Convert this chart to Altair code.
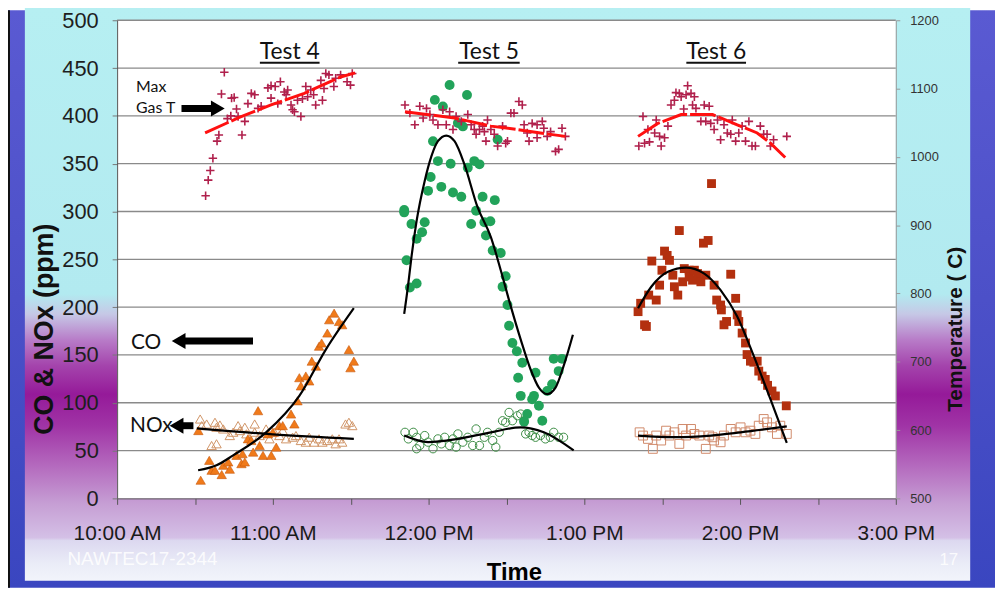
import altair as alt
import pandas as pd

# ---------------- data: (minutes after 10:00 AM, value) ----------------
# Max gas temperature, deg C (right axis)
T4_TEMP = [(34.1,943),(35.1,966),(35.9,980),(36.9,998),(38.5,1023),(39.2,1032),(40.2,1092),(41.3,1124),
           (42.5,1056),(43.8,1060),(44.1,1086),(45.1,1087),(46.0,1070),(46.6,1059),(48.1,1032),(49.2,1052),
           (50.4,1078),(51.7,1093),(53.0,1091),(54.3,1071),(55.5,1074),(58.1,1101),(59.3,1104),(59.3,1086),
           (60.9,1103),(61.9,1078),(62.9,1110),(64.4,1095),(65.1,1091),(65.7,1098),(67.0,1076),(67.6,1069),
           (68.3,1066),(69.5,1083),(70.8,1059),(71.4,1085),(72.7,1103),(73.4,1088),(74.6,1098),(75.7,1091),
           (76.5,1076),(78.5,1112),(79.1,1083),(79.7,1100),(80.4,1122),(81.6,1120),(83.5,1103),(84.2,1115),
           (86.1,1120),(88.6,1110),(89.9,1105),(90.6,1122)]
T4_TEMP_TREND = [(33.9,1035),(46.6,1057),(59.3,1076),(72.1,1093),(86.1,1117),(91.7,1123)]

T5_TEMP = [(110.9,1076),(112.8,1064),(114.7,1047),(116.6,1074),(117.9,1057),(119.2,1071),(120.5,1062),
           (121.7,1054),(123.6,1047),(125.5,1069),(126.8,1047),(128.1,1066),(129.4,1040),(130.6,1059),
           (132.6,1052),(135.1,1062),(136.4,1047),(137.6,1040),(138.3,1033),(139.6,1040),(140.8,1045),
           (141.5,1037),(142.1,1023),(142.7,1054),(144.0,1040),(145.3,1033),(146.6,1016),(148.5,1045),
           (149.7,1020),(150.4,1023),(151.7,1064),(152.9,1064),(154.8,1081),(156.1,1076),(156.8,1047),
           (158.0,1035),(158.7,1023),(159.9,1049),(161.8,1047),(161.8,1028),(163.8,1052),(164.4,1042),
           (165.7,1030),(167.0,1037),(168.9,1008),(170.1,1011),(171.4,1042),(172.7,1030)]
T5_TEMP_TREND = [(110.9,1066),(130.0,1057),(144.0,1045),(154.2,1040),(163.1,1035),(172.7,1030)]

T6_TEMP = [(201.0,1016),(202.6,1059),(203.2,1020),(204.5,1040),(205.1,1022),(207.1,1035),(207.7,1054),
           (209.0,1030),(209.6,1016),(210.9,1028),(212.2,1045),(213.4,1076),(214.7,1083),(215.3,1094),
           (216.6,1093),(217.3,1088),(218.3,1070),(219.2,1091),(219.8,1104),(221.1,1093),(221.7,1076),
           (222.4,1088),(223.0,1071),(224.9,1052),(226.2,1076),(226.8,1052),(228.1,1074),(228.7,1049),
           (230.0,1040),(231.3,1054),(232.5,1025),(233.8,1047),(235.1,1035),(236.4,1033),(237.0,1054),
           (238.3,1023),(239.5,1035),(240.8,1045),(242.1,1023),(243.4,1052),(244.6,1016),(245.9,1016),
           (247.8,1045),(249.1,1033),(250.4,1033),(251.7,1016),(252.9,1025),(258.0,1030)]
T6_TEMP_TREND = [(200.7,1030),(208.3,1049),(217.3,1062),(229.4,1062),(238.9,1047),(246.6,1035),
                 (251.7,1020),(257.4,999)]

# CO and NOx, ppm (left axis)
T4_CO = [(31.3,70.9),(32.2,19.0),(35.5,39.8),(36.4,29.4),(37.7,29.4),(40.3,24.9),(40.9,34.6),(42.8,38.1),
         (43.4,30.5),(46.0,45.0),(47.9,36.3),(48.3,46.7),(49.2,38.1),(50.4,62.3),(51.7,60.5),(52.4,48.4),
         (54.3,91.7),(54.9,55.3),(56.2,45.0),(58.1,67.5),(59.4,45.0),(60.0,69.2),(61.3,53.6),(62.5,76.1),
         (63.8,76.1),(67.0,88.2),(68.3,77.8),(69.5,102.0),(70.2,126.2),(70.8,117.6),(72.7,128.0),(74.0,122.8),
         (75.0,143.5),(76.6,138.3),(77.8,159.1),(78.8,162.5),(81.0,172.9),(81.7,186.8),(83.6,193.7),
         (85.5,185.0),(86.7,181.6),(89.3,155.6),(89.9,136.6),(91.2,143.5)]
T4_CO_TREND = [(31.2,29.4),(38.3,34.6),(44.7,45.0),(57.4,69.0),(70.2,107.2),(80.4,155.6),(91.2,198.9)]

T4_NOX = [(32.0,83.0),(32.6,76.1),(34.5,77.8),(36.4,55.3),(37.7,79.6),(38.3,74.4),(38.3,57.1),(39.6,76.8),
          (40.9,72.6),(43.4,65.7),(44.7,69.2),(46.6,76.1),(47.3,70.9),(49.2,74.4),(49.8,67.5),(53.0,77.8),
          (53.0,69.2),(54.9,65.7),(57.4,72.6),(58.7,62.3),(60.6,69.2),(62.5,65.7),(63.8,70.9),(65.1,62.3),
          (67.6,64.0),(68.9,65.7),(70.8,60.5),(72.7,58.8),(74.0,64.0),(75.9,58.8),(77.8,62.3),(79.1,58.8),
          (81.0,60.5),(82.9,62.3),(84.2,57.1),(85.5,62.3),(86.7,58.8),(88.0,77.8),(89.3,79.6),(90.6,76.1)]
T4_NOX_TREND = [(30.7,73.3),(60.0,67.0),(91.2,62.3)]

T5_CO = [(110.6,301.6),(110.6,299.1),(111.5,249.0),(112.8,220.6),(113.4,287.0),(115.4,271.4),(115.4,224.8),
         (117.5,278.3),(118.5,288.7),(119.8,321.6),(120.8,336.1),(121.7,373.5),(122.4,416.7),(123.6,352.7),
         (124.9,325.8),(125.5,409.8),(128.1,432.3),(128.5,350.0),(129.4,319.9),(131.3,392.5),(132.6,315.4),
         (133.2,389.0),(134.8,421.9),(135.1,345.8),(136.4,287.0),(137.6,352.7),(138.3,300.8),(139.6,349.3),
         (140.8,315.4),(141.5,288.7),(142.1,274.9),(143.8,289.8),(144.7,259.3),(145.5,311.9),(146.6,375.2),
         (147.8,256.6),(148.5,221.3),(149.7,232.4),(150.4,202.3),(151.0,180.5),(152.3,162.5),(154.0,153.9),
         (154.5,126.2),(155.5,107.2),(156.1,141.8),(156.8,80.2),(158.0,88.2),(159.9,103.7),(160.6,107.2),
         (161.2,131.4),(162.5,96.8),(163.8,81.2),(165.7,112.4),(167.6,119.3),(168.2,145.9),(170.1,133.1),
         (171.4,145.9)]
T5_CO_TREND = [(110.6,192.9),(112.2,224.8),(113.4,252.4),(115.4,290.4),(118.5,332.0),(121.1,357.9),
               (123.6,373.5),(126.8,379.4),(130.0,373.5),(133.8,349.3),(138.8,305.0),(144.0,273.2),
               (147.8,238.6),(151.7,200.5),(155.5,166.0),(159.3,134.8),(162.5,115.8),(165.7,109.0),
               (168.9,115.8),(172.0,138.3),(175.6,171.2)]

T5_NOX = [(110.9,69.1),(112.2,62.2),(114.1,69.1),(115.4,63.9),(115.4,51.9),(116.6,55.3),(118.5,65.7),
          (119.8,58.8),(121.7,51.9),(123.6,62.2),(124.9,57.0),(126.2,63.9),(128.1,55.3),(129.4,62.2),
          (130.6,53.6),(131.3,67.4),(133.2,58.8),(135.1,63.9),(137.0,55.3),(138.3,72.6),(139.6,55.3),
          (141.5,63.9),(142.7,69.1),(144.7,60.5),(145.9,53.6),(147.2,69.1),(148.5,81.2),(149.7,79.5),
          (151.0,89.9),(152.3,81.2),(154.2,86.4),(155.5,88.2),(156.8,81.2),(157.4,67.4),(158.7,69.1),
          (159.9,65.7),(161.2,63.9),(163.1,65.7),(165.0,62.2),(166.9,63.9),(168.2,69.1),(170.1,63.9),
          (172.0,63.9)]
T5_NOX_TREND = [(110.6,65.7),(119.8,58.8),(131.3,62.2),(144.0,69.1),(155.5,74.3),(164.4,69.1),(175.9,50.1)]

T6_CO = [(200.7,195.3),(201.7,204.0),(203.2,181.5),(203.9,179.8),(204.8,212.6),(206.0,248.2),(207.7,207.4),
         (209.0,223.0),(209.9,238.6),(210.9,258.6),(211.9,254.1),(212.8,248.9),(214.1,233.4),(214.7,221.3),
         (216.0,212.6),(216.6,280.1),(217.9,226.5),(218.5,240.3),(220.4,238.6),(220.4,231.6),(221.7,228.2),
         (222.4,238.6),(223.6,235.1),(224.9,226.5),(225.9,266.9),(226.8,233.4),(227.7,269.7),(229.0,329.2),
         (230.0,223.0),(231.0,207.4),(232.5,202.2),(232.8,197.1),(233.8,181.5),(234.8,185.0),(236.4,234.4),
         (238.3,209.2),(238.9,191.9),(239.5,185.0),(240.8,172.9),(242.1,162.5),(242.7,150.4),(244.0,143.5),
         (245.3,142.4),(246.6,143.5),(247.2,133.1),(248.5,127.9),(249.7,124.4),(250.6,118.2),(252.3,112.3),
         (253.6,107.1),(257.8,96.8)]
T6_CO_TREND = [(200.7,198.8),(205.8,221.3),(212.2,236.9),(219.2,241.3),(226.2,235.1),(232.5,217.8),
               (238.9,190.2),(245.3,148.7),(251.7,103.7),(258.0,58.1)]

T6_NOX = [(201.3,69.1),(202.6,65.7),(204.5,62.2),(206.4,51.8),(207.7,65.7),(209.6,60.5),(211.5,70.8),
          (212.8,65.7),(214.7,69.1),(216.6,57.0),(217.9,72.6),(219.2,65.7),(221.1,72.6),(222.4,67.4),
          (224.3,65.7),(226.8,51.8),(228.1,65.7),(229.4,63.9),(230.0,60.5),(232.5,58.7),(233.8,65.7),
          (236.4,72.6),(238.3,69.1),(240.2,74.3),(242.1,69.1),(244.0,70.8),(245.9,67.4),(247.2,76.0),
          (249.1,83.0),(250.4,79.5),(252.3,74.3),(254.2,67.4),(255.5,76.0),(258.0,67.4)]
T6_NOX_TREND = [(200.7,65.7),(214.7,64.0),(228.7,65.7),(240.2,69.1),(258.0,75.3)]

# annotations (minutes after 10:00, ppm)
TEST_LABELS = [("Test 4", 66.5, 459), ("Test 5", 143.3, 459), ("Test 6", 230.8, 459)]
TEST_UNDERLINES = [(55.0, 78.0, 455.5), (131.4, 155.1, 455.5), (219.3, 242.3, 455.5)]
SMALL_LABELS = [("Max", 7.3, 425.3), ("Gas T", 7.3, 402.5)]
SERIES_LABELS = [("CO", 5.35, 156.6), ("NOx", 5.0, 69.5)]
ARROW_SHAFTS = [(24.8, 38.8, 407.7), (23.7, 52.35, 164.6), (22.9, 29.4, 76.0)]
ARROW_HEADS = [(38.8, 407.7, "triangle-right"), (23.7, 164.6, "triangle-left"), (22.9, 76.0, "triangle-left")]

PPM_TICKS = list(range(0, 501, 50))
TEMP_TICKS = list(range(500, 1201, 100))
TIME_TICKS = list(range(0, 301, 30))

# ---------------- helpers ----------------
W, H = 785, 482
FONT = "Liberation Sans"
ANN_FONT = "Lato"


def df(pairs):
    return pd.DataFrame(pairs, columns=["t", "v"])


LABEL_EXPR = ("datum.value % 60 == 0 ? (((10 + datum.value / 60) > 12 ? (10 + datum.value / 60 - 12) : "
              "(10 + datum.value / 60)) + ':00 ' + ((10 + datum.value / 60) >= 12 ? 'PM' : 'AM')) : ''")

XAXIS = alt.Axis(values=TIME_TICKS, labelExpr=LABEL_EXPR, title="Time", titleX=400, titleY=82,
                 titleFontSize=24, titleFont=FONT, titleFontWeight="bold", titleColor="#000000",
                 titleBaseline="alphabetic", titleAlign="center", labelFontSize=21, labelFont=FONT,
                 labelColor="#1a1a1a", labelBaseline="alphabetic", labelPadding=35, tickSize=6,
                 tickColor="#555555", domainColor="#555555", grid=False, zindex=1, labelFlush=False,
                 labelOverlap=False)
XSCALE = alt.Scale(domain=[0, 300], nice=False, zero=False)

YL_AXIS = alt.Axis(values=PPM_TICKS, title="CO & NOx (ppm)", titleX=-65, titleY=311, titleAngle=270,
                   titleAlign="center", titleBaseline="alphabetic", titleFontSize=27, titleFontWeight="bold",
                   titleFont=FONT, titleColor="#111111", labelFontSize=22, labelFont=FONT,
                   labelColor="#1e1e1e", labelPadding=14, tickSize=5, tickColor="#777777",
                   domainColor="#555555", grid=False, zindex=1, labelFlush=False, labelOverlap=False)
YL_SCALE = alt.Scale(domain=[0, 500], nice=False, zero=False)

YR_AXIS = alt.Axis(orient="right", values=TEMP_TICKS, format="d", title="Temperature ( C)", titleX=66,
                   titleY=311, titleAngle=270, titleAlign="center", titleBaseline="alphabetic",
                   titleFontSize=21, titleFontWeight="bold", titleFont=FONT, titleColor="#111111",
                   labelFontSize=13, labelFont=FONT, labelColor="#333333", labelPadding=10, tickSize=4,
                   tickColor="#999999", domainColor="#999999", grid=False, zindex=1, labelFlush=False,
                   labelOverlap=False)
YR_SCALE = alt.Scale(domain=[500, 1200], nice=False, zero=False)


def X(field="t"):
    return alt.X(f"{field}:Q", scale=XSCALE, axis=XAXIS)


def YL(field="v"):
    return alt.Y(f"{field}:Q", scale=YL_SCALE, axis=YL_AXIS)


def YR(field="v"):
    return alt.Y(f"{field}:Q", scale=YR_SCALE, axis=YR_AXIS)


def grad(stops):
    return alt.LinearGradient(gradient="linear",
                              stops=[alt.GradientStop(color=c, offset=o) for o, c in stops],
                              x1=0, x2=0, y1=0, y2=1)


one = pd.DataFrame({"k": [0]})

# ---------------- slide background (decoration) ----------------
outer_bg = alt.Chart(one).mark_rect(
    fill=grad([(0, "#5a5ad2"), (0.5, "#4c50c8"), (1, "#3a46c0")])
).encode(x=alt.value(-110), x2=alt.value(885), y=alt.value(-10), y2=alt.value(572))

edge = alt.Chart(one).mark_rect(color="#111111").encode(
    x=alt.value(-110), x2=alt.value(-108), y=alt.value(-10), y2=alt.value(572))

panel = alt.Chart(one).mark_rect(
    fill=grad([(0.0, "#b6eff2"), (0.50, "#b2eaf0"), (0.535, "#c6c8e6"), (0.58, "#b87cc8"),
               (0.625, "#a444ac"), (0.675, "#951a99"), (0.73, "#a034a6"), (0.80, "#b46abe"),
               (0.865, "#c69ed4"), (0.925, "#d4c0e6"), (0.93, "#dcd8f0"), (0.97, "#eaecf7"),
               (1.0, "#f2f4fb")])
).encode(x=alt.value(-93), x2=alt.value(860), y=alt.value(-13), y2=alt.value(565))

footer1 = alt.Chart(one).mark_text(text="NAWTEC17-2344", align="left", baseline="alphabetic", font=FONT,
                                   fontSize=19, color="#ffffff", opacity=0.85).encode(
    x=alt.value(-50), y=alt.value(549))
footer2 = alt.Chart(one).mark_text(text="17", align="left", baseline="alphabetic", font=FONT,
                                   fontSize=17, color="#ffffff", opacity=0.85).encode(
    x=alt.value(829), y=alt.value(549))

# ---------------- left (ppm) group ----------------
plot_bg = alt.Chart(pd.DataFrame({"t": [0], "t2": [300], "v": [0], "v2": [500]})).mark_rect(
    color="#ffffff").encode(x=X(), x2="t2", y=YL(), y2="v2")

grid = alt.Chart(pd.DataFrame({"v": PPM_TICKS[1:]})).mark_rule(color="#8a8a8a", strokeWidth=1.3).encode(
    y=YL())


def pts(data, **mk):
    return alt.Chart(df(data)).mark_point(**mk).encode(x=X(), y=YL())


def trend(data, color="#000000", width=2.2, interp="monotone", dash=None, yenc=YL):
    kw = dict(color=color, strokeWidth=width, interpolate=interp)
    if dash:
        kw["strokeDash"] = dash
    return alt.Chart(df(data)).mark_line(**kw).encode(x=X(), y=yenc())


co4 = pts(T4_CO, shape="triangle-up", filled=True, size=90, color="#f07a1a", stroke="#c85a10",
          strokeWidth=0.6, opacity=1)
nox4 = pts(T4_NOX, shape="triangle-up", filled=False, size=90, color="#cf9466", strokeWidth=1, opacity=1)
co5 = pts(T5_CO, shape="circle", filled=True, size=100, color="#22a35a", opacity=1)
nox5 = pts(T5_NOX, shape="circle", filled=False, size=70, color="#3c8c44", strokeWidth=1, opacity=1)
co6 = pts(T6_CO, shape="square", filled=True, size=80, color="#b3300f", opacity=1)
nox6 = pts(T6_NOX, shape="square", filled=False, size=80, color="#d08a6a", strokeWidth=1, opacity=1)

tests = alt.Chart(pd.DataFrame(TEST_LABELS, columns=["txt", "t", "v"])).mark_text(
    font=ANN_FONT, fontSize=23, align="center", baseline="alphabetic", color="#111111").encode(
    x=X(), y=YL(), text="txt:N")
underl = alt.Chart(pd.DataFrame(TEST_UNDERLINES, columns=["t", "t2", "v"])).mark_rule(
    color="#111111", strokeWidth=2).encode(x=X(), x2="t2", y=YL())
small = alt.Chart(pd.DataFrame(SMALL_LABELS, columns=["txt", "t", "v"])).mark_text(
    font=ANN_FONT, fontSize=16, align="left", baseline="alphabetic", color="#111111").encode(
    x=X(), y=YL(), text="txt:N")
serl = alt.Chart(pd.DataFrame(SERIES_LABELS, columns=["txt", "t", "v"])).mark_text(
    font=ANN_FONT, fontSize=21, align="left", baseline="alphabetic", color="#111111").encode(
    x=X(), y=YL(), text="txt:N")
shafts = alt.Chart(pd.DataFrame(ARROW_SHAFTS, columns=["t", "t2", "v"])).mark_rule(
    color="#000000", strokeWidth=7).encode(x=X(), x2="t2", y=YL())
heads = alt.Chart(pd.DataFrame(ARROW_HEADS, columns=["t", "v", "shp"])).mark_point(
    filled=True, color="#000000", size=256, opacity=1).encode(
    x=X(), y=YL(), shape=alt.Shape("shp:N", scale=None))

left_group = alt.layer(
    plot_bg, grid,
    nox4, co4, nox5, co5, nox6, co6,
    trend(T4_CO_TREND), trend(T4_NOX_TREND), trend(T5_CO_TREND), trend(T5_NOX_TREND),
    trend(T6_CO_TREND), trend(T6_NOX_TREND),
    tests, underl, small, serl, shafts, heads,
)

# ---------------- right (temperature) group ----------------
PLUS = "M-1,0L1,0M0,-1L0,1"


def temp_pts(data):
    return alt.Chart(df(data)).mark_point(shape=PLUS, filled=False, size=72, color="#b0204c",
                                          strokeWidth=1.6, opacity=1).encode(x=X(), y=YR())


temp_group = alt.layer(
    temp_pts(T4_TEMP), temp_pts(T5_TEMP), temp_pts(T6_TEMP),
    trend(T4_TEMP_TREND, color="#ff1010", width=3, interp="linear", dash=[26, 3], yenc=YR),
    trend(T5_TEMP_TREND, color="#ff1010", width=3, interp="linear", dash=[26, 3], yenc=YR),
    trend(T6_TEMP_TREND, color="#ff1010", width=3, interp="linear", dash=[26, 3], yenc=YR),
)

chart = alt.layer(
    outer_bg, edge, panel, footer1, footer2, left_group, temp_group
).resolve_scale(y="independent").properties(
    width=W, height=H, autosize=alt.AutoSizeParams(type="none"),
    padding={"left": 110, "top": 10, "right": 100, "bottom": 90},
).configure_view(stroke=None)

chart.save("out.html", embed_options={"renderer": "svg", "actions": False})
